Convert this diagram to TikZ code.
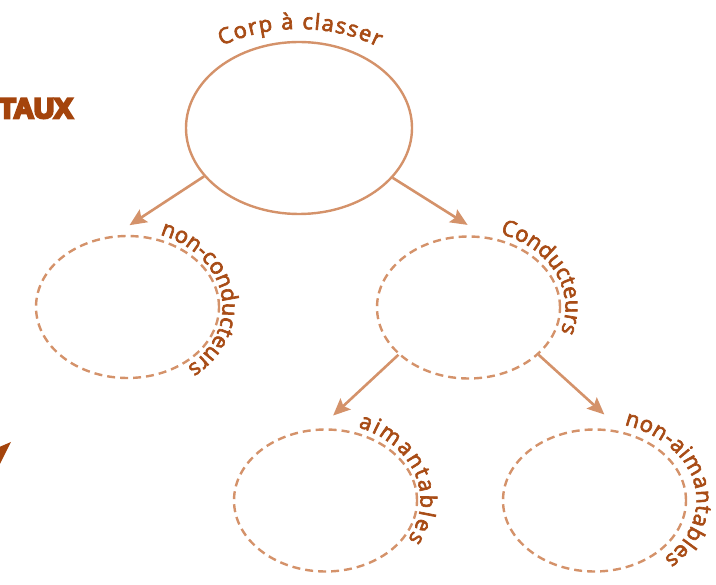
\documentclass[tikz,border=0pt]{standalone}
\usepackage{fontspec}
\usetikzlibrary{shapes.geometric,decorations.text,arrows.meta}
\newfontfamily\lblfont{Open Sans}[FakeBold=3]
\newfontfamily\tauxfont{Liberation Sans}[FakeBold=9]
\definecolor{lineC}{RGB}{212,146,106}
\definecolor{txtC}{RGB}{168,76,22}
\definecolor{tauxC}{RGB}{164,68,12}
\begin{document}
\begin{tikzpicture}[x=1pt,y=1pt,
  bubble/.style={ellipse, draw=lineC, line width=2.4pt, minimum width=183pt, minimum height=142pt, inner sep=0pt},
  dashedbubble/.style={bubble, dash pattern=on 8pt off 5pt},
  link/.style={draw=lineC, line width=2.6pt, -{Stealth[length=17pt,width=15pt,inset=3pt]}},
  curvelabel/.style={decorate, decoration={text along path, text align={fit to path}}}
]
\useasboundingbox (0,0) rectangle (716,-585);
% heading fragment and stray arrowhead at the left edge
\node[anchor=base east, inner sep=0pt, text=tauxC, font=\tauxfont\bfseries\fontsize{28pt}{28pt}\selectfont] (taux) at (73,-118) {TAUX};
\fill[tauxC] (11,-442) -- (-10,-451) -- (-3,-455) -- (-1,-466) -- cycle;
% ellipses
\node[bubble, minimum width=226pt, minimum height=172pt] (root) at (299,-128) {};
\node[dashedbubble] (nc) at (127.5,-307) {};
\node[dashedbubble] (c) at (468.5,-307.5) {};
\node[dashedbubble] (a) at (325.5,-500.5) {};
\node[dashedbubble] (na) at (594.5,-500.5) {};
% connectors
\draw[link, shorten >=19pt] (root.207) -- (nc.101);
\draw[link, shorten >=22pt] (root.-28) -- (c.76);
\draw[link, shorten >=19pt] (c.214) -- (a.95);
\draw[link, shorten >=26pt] (c.-34) -- (na.67);
% curved labels
\path[curvelabel, decoration={text={|\lblfont\fontsize{22pt}{22pt}\selectfont\color{txtC}|Corp à classer}}]
  (root.center) ++(124:138pt and 99pt) arc[start angle=124, end angle=55, x radius=138pt, y radius=99pt];
\path[curvelabel, decoration={text={|\lblfont\fontsize{22pt}{22pt}\selectfont\color{txtC}|non-conducteurs}}]
  (nc.center) ++(70:95pt and 77pt) arc[start angle=70, end angle=-48, x radius=95pt, y radius=77pt];
\path[curvelabel, decoration={text={|\lblfont\fontsize{22pt}{22pt}\selectfont\color{txtC}|Conducteurs}}]
  (c.center) ++(71:97pt and 78pt) arc[start angle=71, end angle=-18, x radius=97pt, y radius=78pt];
\path[curvelabel, decoration={text={|\lblfont\fontsize{22pt}{22pt}\selectfont\color{txtC}|aimantables}}]
  (a.center) ++(70:95pt and 78pt) arc[start angle=70, end angle=-30, x radius=95pt, y radius=78pt];
\path[curvelabel, decoration={text={|\lblfont\fontsize{22pt}{22pt}\selectfont\color{txtC}|non-aimantables}}]
  (na.center) ++(73:102pt and 79pt) arc[start angle=73, end angle=-47, x radius=102pt, y radius=79pt];
\end{tikzpicture}
\end{document}
